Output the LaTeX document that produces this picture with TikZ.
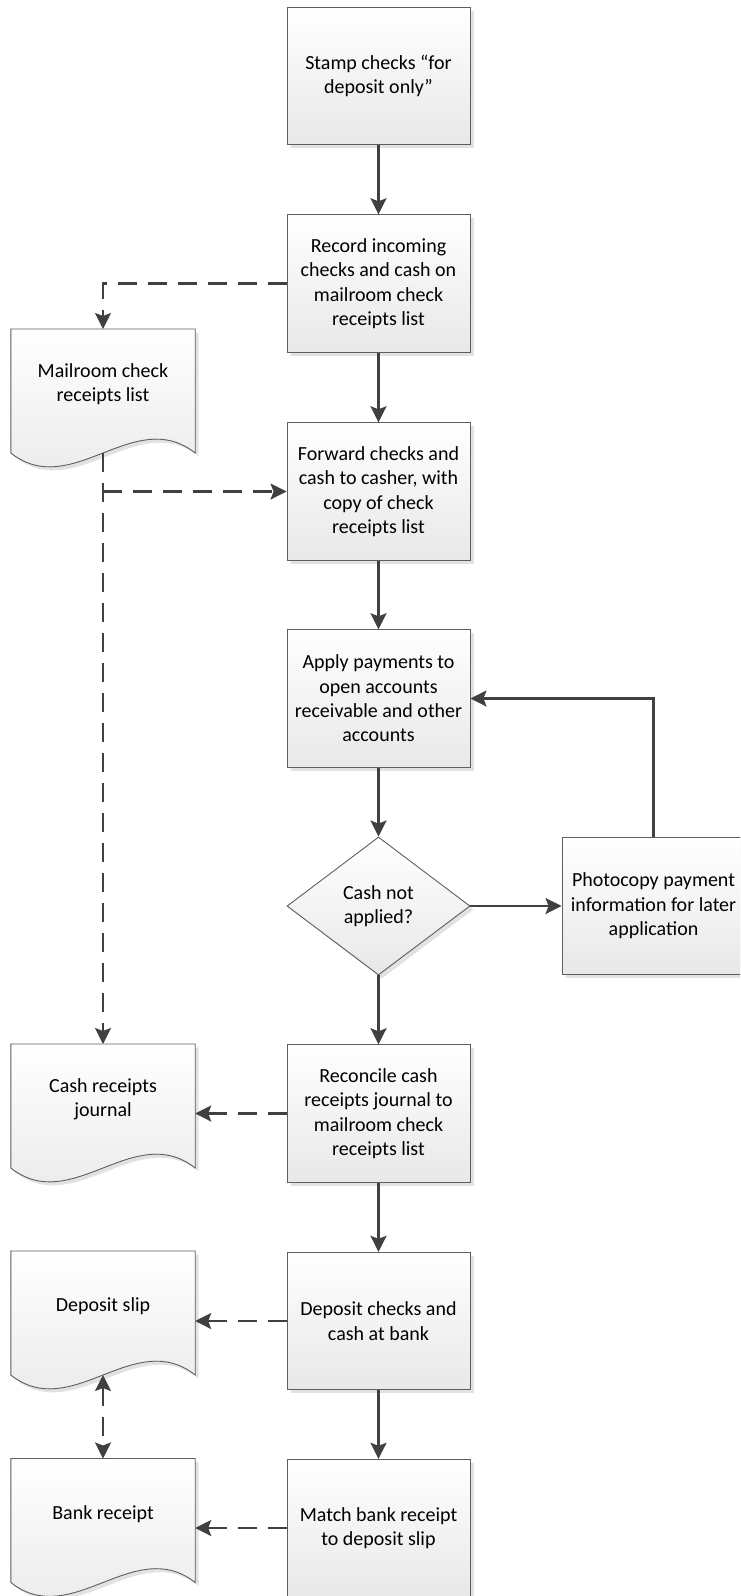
\documentclass[tikz,border=0pt]{standalone}
\usepackage{fontspec}
\setmainfont{Carlito}
\usetikzlibrary{arrows.meta,shapes.geometric,shadows,calc,backgrounds}

\definecolor{wire}{HTML}{404040}
\definecolor{edgegray}{HTML}{5E5E5E}
\definecolor{boxshadow}{HTML}{E2E2E2}
\definecolor{fillbot}{HTML}{E8E8E8}

\tikzset{
  x=1pt, y=-1pt,
  every node/.style={font=\fontsize{20pt}{24.4pt}\selectfont, text=black},
  castshadow/.style={drop shadow={shadow xshift=3.5pt, shadow yshift=-3.5pt, fill=boxshadow, opacity=1}},
  stepbox/.style={rectangle, draw=edgegray, line width=0.9pt, top color=white, bottom color=fillbot,
    minimum width=183pt, minimum height=137.5pt, inner sep=0pt, align=center, castshadow},
  decision/.style={diamond, draw=edgegray, line width=0.9pt, top color=white, bottom color=fillbot,
    minimum width=183pt, minimum height=138pt, inner sep=0pt, align=center, castshadow},
  doclabel/.style={rectangle, minimum width=184pt, minimum height=110pt, inner sep=0pt,
    align=center, anchor=north},
  flow/.style={draw=wire, line width=2.3pt, -{Stealth[length=16pt, width=16pt, inset=3pt]}},
  dataflow/.style={flow, dash pattern=on 19pt off 11pt},
  bothways/.style={{Stealth[length=16pt, width=16pt, inset=3pt]}-{Stealth[length=16pt, width=16pt, inset=3pt]}},
}

% document symbol: flat top, straight sides, wavy bottom edge
\newcommand\docoutline[1]{%
  \fill[boxshadow, transform canvas={shift={(3.5pt,-3.5pt)}}]
    (#1.north west) -- (#1.north east) -- ($(#1.north east)+(0,124)$)
    .. controls +(-61,-48) and +(61,48) .. ($(#1.north west)+(0,124)$) -- cycle;
  \path[draw=edgegray, line width=0.9pt, top color=white, bottom color=fillbot]
    (#1.north west) -- (#1.north east) -- ($(#1.north east)+(0,124)$)
    .. controls +(-61,-48) and +(61,48) .. ($(#1.north west)+(0,124)$) -- cycle;
}

\begin{document}
\begin{tikzpicture}
\useasboundingbox (0,0) rectangle (740,1596);
\clip (0,0) rectangle (740,1596);

% main process column
\node[stepbox] (stamp)     at (378.5,76)     {Stamp checks “for\\deposit only”};
\node[stepbox] (record)    at (378.5,283.5)  {Record incoming\\checks and cash on\\mailroom check\\receipts list};
\node[stepbox] (forward)   at (378.5,491.5)  {Forward checks and\\cash to casher, with\\copy of check\\receipts list};
\node[stepbox] (apply)     at (378.5,698.5)  {Apply payments to\\open accounts\\receivable and other\\accounts};
\node[decision] (check)    at (378.5,906)    {Cash not\\applied?};
\node[stepbox] (photo)     at (653.5,906)    {Photocopy payment\\information for later\\application};
\node[stepbox] (reconcile) at (378.5,1113.5) {Reconcile cash\\receipts journal to\\mailroom check\\receipts list};
\node[stepbox] (deposit)   at (378.5,1321)   {Deposit checks and\\cash at bank};
\node[stepbox] (match)     at (378.5,1528)   {Match bank receipt\\to deposit slip};

% documents
\node[doclabel] (mail) at (103,329)    {Mailroom check\\receipts list};
\node[doclabel] (cash) at (103,1044)   {Cash receipts\\journal};
\node[doclabel] (dep)  at (103,1251)   {Deposit slip};
\node[doclabel] (bank) at (103,1458.5) {Bank receipt};

\begin{pgfonlayer}{background}
  \docoutline{mail}
  \docoutline{cash}
  \docoutline{dep}
  \docoutline{bank}
\end{pgfonlayer}

\coordinate (mailfoot) at ($(mail.north)+(0,124)$);
\coordinate (depfoot)  at ($(dep.north)+(0,124)$);

% process flow
\draw[flow] (stamp) -- (record);
\draw[flow] (record) -- (forward);
\draw[flow] (forward) -- (apply);
\draw[flow] (apply) -- (check);
\draw[flow] (check.south) -- (reconcile.north);
\draw[flow] (reconcile) -- (deposit);
\draw[flow] (deposit) -- (match);
\draw[flow] (check.east) -- (photo.west);
\draw[flow] (photo.north) |- (apply.east);

% document flow
\draw[dataflow] (record.west) -| (mail.north);
\draw[dataflow] (mailfoot) -- (cash.north);
\draw[dataflow] (mailfoot |- forward.west) -- (forward.west);
\draw[dataflow] (reconcile.west) -- (reconcile.west -| cash.east);
\draw[dataflow] (deposit.west) -- (deposit.west -| dep.east);
\draw[dataflow] (match.west) -- (match.west -| bank.east);
\draw[dataflow, bothways] (depfoot) -- (bank.north);
\end{tikzpicture}
\end{document}
